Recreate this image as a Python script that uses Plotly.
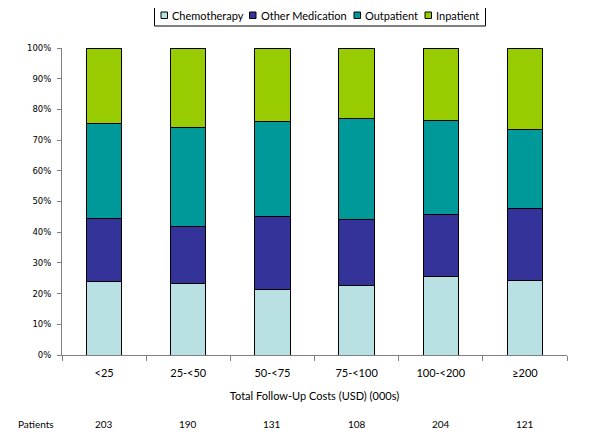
import plotly.graph_objects as go

categories = ["<25", "25-<50", "50-<75", "75-<100", "100-<200", "≥200"]
patients = [203, 190, 131, 108, 204, 121]
chemotherapy = [23.8, 23.2, 21.4, 22.6, 25.6, 24.2]
other_medication = [20.6, 18.6, 23.8, 21.7, 20.3, 23.4]
outpatient = [30.9, 32.4, 30.7, 32.8, 30.6, 25.7]
inpatient = [24.7, 25.8, 24.1, 22.9, 23.5, 26.7]

series_names = ["Chemotherapy", "Other Medication", "Outpatient", "Inpatient"]
series_values = [chemotherapy, other_medication, outpatient, inpatient]
series_colors = ["#B9E0E3", "#333399", "#009999", "#99CC00"]

# page is rendered with an 8px body margin, so figure is sized to fit
W, H = 592, 429
ML, MT, MR, MB = 54, 40, 33, 82
PW, PH = W - ML - MR, H - MT - MB
OFF = 8


def px(x):  # page x pixel -> paper
    return (x - OFF - ML) / PW


def py(y):  # page y pixel -> paper
    return (H - MB - (y - OFF)) / PH


fig = go.Figure()
for name, vals, color in zip(series_names, series_values, series_colors):
    fig.add_trace(go.Bar(
        x=categories, y=vals, name=name, showlegend=False,
        marker=dict(color=color, line=dict(color="#000000", width=1)),
    ))

fig.update_layout(
    barmode="stack",
    bargap=0.58,
    width=W, height=H,
    margin=dict(l=ML, r=MR, t=MT, b=MB, autoexpand=False),
    plot_bgcolor="white", paper_bgcolor="white",
    font=dict(family="DejaVu Sans", size=9, color="#000000"),
    xaxis=dict(
        showline=True, linecolor="#808080", linewidth=1,
        ticks="outside", tickson="boundaries", ticklen=5, tickcolor="#808080",
        tickfont=dict(family="Lato", size=11),
        ticklabelstandoff=8,
        title=dict(text="Total Follow-Up Costs (USD) (000s)", font=dict(family="Lato", size=11), standoff=14),
    ),
    yaxis=dict(
        range=[0, 100], dtick=10, ticksuffix="%",
        showline=True, linecolor="#808080", linewidth=1,
        ticks="outside", ticklen=4, tickcolor="#808080",
        showgrid=False, zeroline=False,
        ticklabelstandoff=4,
        tickfont=dict(family="DejaVu Sans", size=8.5),
    ),
)

# legend box (drawn manually to match the compact layout)
fig.add_shape(type="rect", xref="paper", yref="paper",
              x0=px(154.5), x1=px(485.5), y0=py(26), y1=py(4.5),
              line=dict(color="#000000", width=1), fillcolor="white")
sq_x = [161, 249.5, 354, 425]
tx_x = [170, 258.5, 363, 434]
for name, color, sx, tx in zip(series_names, series_colors, sq_x, tx_x):
    fig.add_shape(type="rect", xref="paper", yref="paper",
                  x0=px(sx), x1=px(sx + 6.5), y0=py(18.5), y1=py(12),
                  line=dict(color="#000000", width=1), fillcolor=color)
    fig.add_annotation(x=px(tx), y=py(15.5), xref="paper", yref="paper",
                       xanchor="left", yanchor="middle", text=name, showarrow=False,
                       font=dict(family="Lato", size=11))

fig.add_annotation(x=0, xref="paper", xanchor="right", xshift=-6, y=py(424), yref="paper",
                   yanchor="middle", text="Patients", showarrow=False,
                   font=dict(family="Lato", size=10))
for c, p in zip(categories, patients):
    fig.add_annotation(x=c, xref="x", y=py(424), yref="paper", yanchor="middle",
                       text=str(p), showarrow=False, font=dict(family="Lato", size=10))

fig.write_html("out.html")
